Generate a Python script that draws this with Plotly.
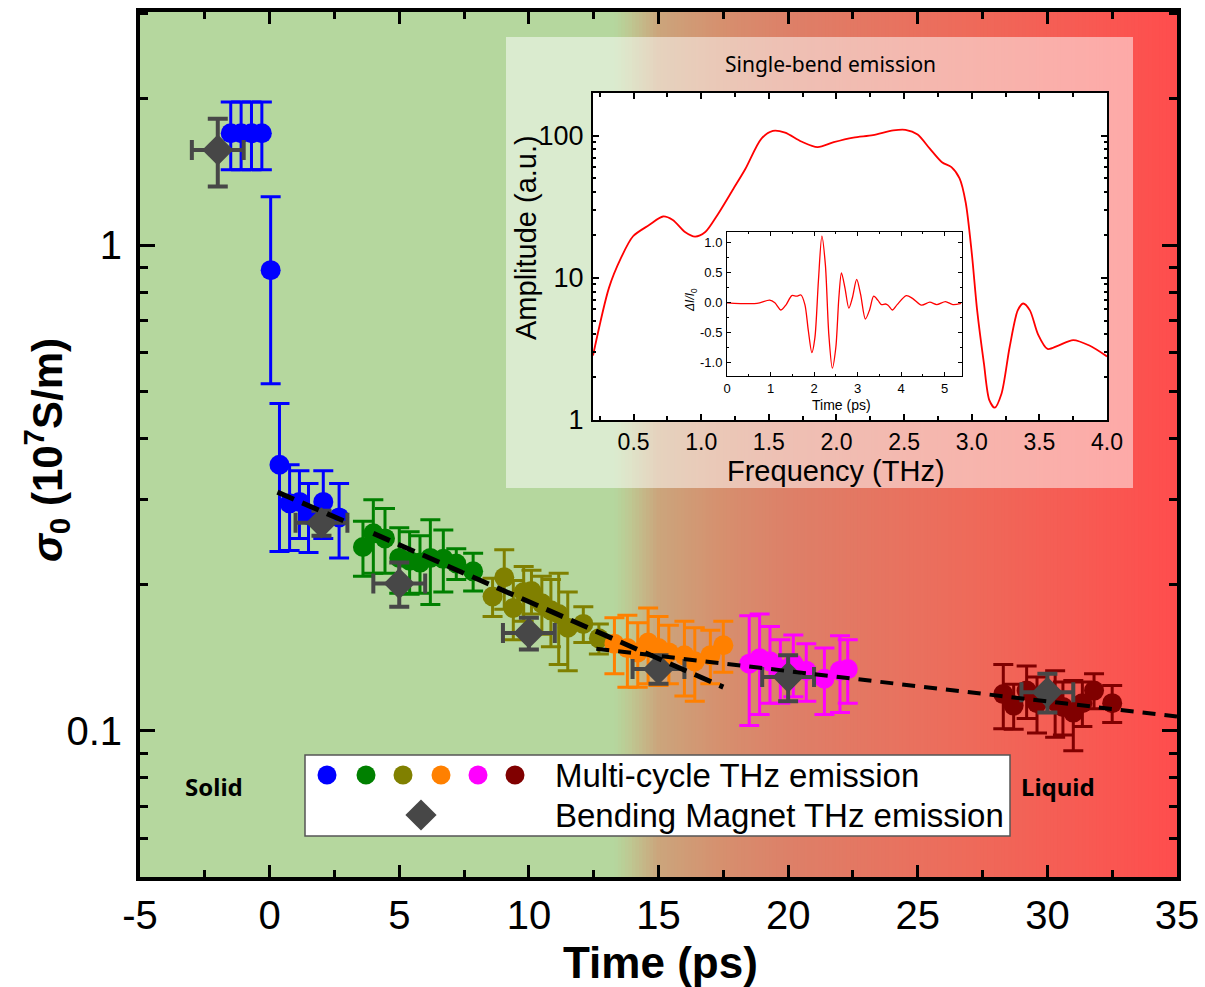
import math
import plotly.graph_objects as go

W, H = 1205, 987

# ---------------- main panel data: conductivity vs. delay ----------------
blue_t = [-1.5, -1.1, -0.7, -0.3, 0.04, 0.38, 0.77, 1.15, 1.5, 2.07, 2.68]
blue_s = [1.70, 1.70, 1.70, 1.70, 0.888, 0.353, 0.294, 0.296, 0.278, 0.296, 0.275]
blue_e = [0.27, 0.27, 0.27, 0.27, 0.37, 0.119, 0.059, 0.047, 0.045, 0.047, 0.048]

green_t = [3.6, 4.0, 4.45, 5.0, 5.4, 5.8, 6.2, 6.7, 7.2, 7.85]
green_s = [0.239, 0.255, 0.249, 0.227, 0.224, 0.222, 0.227, 0.226, 0.221, 0.213]
green_e = [0.031, 0.044, 0.038, 0.035, 0.033, 0.030, 0.045, 0.033, 0.016, 0.019]

olive_t = [8.6, 9.05, 9.4, 9.8, 10.1, 10.5, 10.85, 11.15, 11.5, 12.1, 12.7]
olive_s = [0.189, 0.207, 0.179, 0.193, 0.194, 0.183, 0.177, 0.174, 0.163, 0.166, 0.155]
olive_e = [0.017, 0.029, 0.025, 0.025, 0.020, 0.025, 0.028, 0.037, 0.030, 0.014, 0.011]

orange_t = [13.3, 13.8, 14.2, 14.6, 15.0, 15.4, 16.0, 16.4, 17.0, 17.5]
orange_s = [0.151, 0.148, 0.145, 0.152, 0.148, 0.145, 0.143, 0.139, 0.143, 0.150]
orange_e = [0.020, 0.025, 0.022, 0.027, 0.024, 0.020, 0.025, 0.024, 0.018, 0.018]

magenta_t = [18.5, 18.9, 19.3, 19.7, 20.2, 20.7, 21.4, 22.0, 22.3]
magenta_s = [0.1375, 0.141, 0.139, 0.134, 0.1375, 0.133, 0.128, 0.133, 0.134]
magenta_e = [0.035, 0.033, 0.025, 0.020, 0.020, 0.018, 0.020, 0.024, 0.020]

darkred_t = [28.3, 28.7, 29.2, 29.6, 30.3, 30.6, 31.0, 31.35, 31.8, 32.5]
darkred_s = [0.119, 0.1127, 0.121, 0.114, 0.115, 0.112, 0.109, 0.114, 0.121, 0.114]
darkred_e = [0.018, 0.012, 0.015, 0.015, 0.018, 0.014, 0.018, 0.012, 0.010, 0.010]

bm_t = [-2, 2, 5, 10, 15, 20, 30]
bm_s = [1.57, 0.268, 0.201, 0.159, 0.134, 0.129, 0.120]
bm_ey = [0.25, 0.016, 0.021, 0.012, 0.009, 0.014, 0.011]
bm_ex = [1.0, 1.0, 1.0, 1.0, 1.0, 1.0, 1.0]

fit_a_t = [0.3, 3.1]
fit_a_s = [0.31, 0.267]
fit_b_t = [4.0, 17.5]
fit_b_s = [0.255, 0.123]
fit_c_t = [12.6, 35.0]
fit_c_s = [0.1476, 0.107]

x_ticks = [-5, 0, 5, 10, 15, 20, 25, 30, 35]
y_ticks = [0.1, 1]
y_ticktext = ["0.1", "1"]

# ---------------- inset: single-bend emission spectrum ----------------
freq = [0.2, 0.318, 0.407, 0.496, 0.615, 0.718, 0.79, 0.88, 0.955, 1.03, 1.12,
        1.236, 1.325, 1.444, 1.53, 1.62, 1.74, 1.86, 1.98, 2.125, 2.27, 2.42,
        2.51, 2.6, 2.69, 2.78, 2.85, 2.91, 2.955, 3.0, 3.04, 3.09, 3.13, 3.17,
        3.22, 3.28, 3.34, 3.38, 3.43, 3.49, 3.56, 3.64, 3.75, 3.87, 4.0]
amp = [2.84, 8.5, 13.8, 19.6, 23.5, 27.0, 25.5, 21.0, 19.5, 21.0, 27.7,
       42.0, 58.0, 95.0, 108.0, 105.0, 91.0, 83.0, 90.0, 97.0, 101.0, 109.0,
       110.0, 102.0, 81.0, 65.0, 60.0, 50.0, 34.0, 15.0, 5.9, 2.5, 1.38, 1.22,
       1.53, 3.25, 5.9, 6.6, 5.9, 4.0, 3.16, 3.34, 3.65, 3.34, 2.8]

# ---------------- inner inset: time-domain waveform ----------------
wave_t = [0.0, 0.69, 0.98, 1.1, 1.24, 1.36, 1.49, 1.6, 1.7, 1.79, 1.87, 1.95,
          2.02, 2.1, 2.18, 2.26, 2.34, 2.42, 2.5, 2.57, 2.63, 2.71, 2.8, 2.88,
          2.98, 3.07, 3.18, 3.28, 3.37, 3.47, 3.55, 3.64, 3.7, 3.8, 3.91, 4.12,
          4.27, 4.47, 4.66, 4.82, 5.02, 5.19, 5.38]
wave_v = [0.0, -0.01, 0.045, 0.0, -0.12, -0.03, 0.12, 0.11, 0.13, -0.03, -0.47,
          -0.83, -0.58, 0.36, 1.11, 0.64, -0.53, -1.09, -0.75, 0.08, 0.5, 0.25,
          -0.09, 0.08, 0.39, 0.14, -0.27, -0.11, 0.11, 0.04, -0.03, -0.02, -0.04,
          -0.12, -0.03, 0.12, 0.07, -0.04, 0.01, -0.03, 0.02, -0.03, -0.01]


def px(xp):
    return xp / W


def py(yp):
    return 1 - yp / H


MAIN_X = [px(140), px(1177)]
MAIN_Y = [py(877), py(12)]
T0, T1 = -5.0, 35.0

ARIAL = "Liberation Sans, Arial, sans-serif"
CAL = "Noto Sans, Open Sans, sans-serif"

fig = go.Figure()

# ---- background: solid-to-liquid colour gradient along the time axis ----
stops = [(-5.0, (181, 215, 158)), (13.3, (181, 215, 158)), (13.9, (190, 200, 146)),
         (15.0, (203, 165, 124)), (17.5, (214, 143, 110)), (20.0, (221, 128, 104)),
         (27.0, (238, 106, 90)), (35.0, (255, 77, 77))]


def grad_color(t):
    for (ta, ca), (tb, cb) in zip(stops[:-1], stops[1:]):
        if ta <= t <= tb:
            f = 0 if tb == ta else (t - ta) / (tb - ta)
            return tuple(round(ca[i] + (cb[i] - ca[i]) * f) for i in range(3))
    return stops[-1][1]


def t_to_paper(t):
    return MAIN_X[0] + (t - T0) / (T1 - T0) * (MAIN_X[1] - MAIN_X[0])


shapes = []
shapes.append(dict(type="rect", xref="paper", yref="paper", layer="below",
                   x0=t_to_paper(-5), x1=t_to_paper(13.3) + 0.001, y0=MAIN_Y[0], y1=MAIN_Y[1],
                   fillcolor="rgb(181,215,158)", line_width=0))
n = 160
for k in range(n):
    ta = 13.3 + (35 - 13.3) * k / n
    tb = 13.3 + (35 - 13.3) * (k + 1) / n
    c = grad_color(0.5 * (ta + tb))
    shapes.append(dict(type="rect", xref="paper", yref="paper", layer="below",
                       x0=t_to_paper(ta), x1=min(t_to_paper(tb) + 0.0012, MAIN_X[1]),
                       y0=MAIN_Y[0], y1=MAIN_Y[1],
                       fillcolor="rgb(%d,%d,%d)" % c, line_width=0))

# translucent inset panel
shapes.append(dict(type="rect", xref="paper", yref="paper", layer="below",
                   x0=px(506), x1=px(1133), y0=py(488), y1=py(37),
                   fillcolor="rgba(255,255,255,0.5)", line_width=0))
# white plot areas of the inset axes
shapes.append(dict(type="rect", xref="paper", yref="paper", layer="below",
                   x0=px(593), x1=px(1107), y0=py(420), y1=py(93),
                   fillcolor="white", line_width=0))
shapes.append(dict(type="rect", xref="paper", yref="paper", layer="below",
                   x0=px(727), x1=px(962), y0=py(376), y1=py(232),
                   fillcolor="white", line_width=0))
# legend frame
shapes.append(dict(type="rect", xref="paper", yref="paper", layer="below",
                   x0=px(305), x1=px(1010), y0=py(836), y1=py(755),
                   fillcolor="white", line=dict(color="#555555", width=1.5)))

# ---- multi-cycle emission points ----
groups = [
    (blue_t, blue_s, blue_e, "#0000ff"),
    (green_t, green_s, green_e, "#008000"),
    (olive_t, olive_s, olive_e, "#808000"),
    (orange_t, orange_s, orange_e, "#ff8000"),
    (magenta_t, magenta_s, magenta_e, "#ff00ff"),
    (darkred_t, darkred_s, darkred_e, "#800000"),
]
for t, s, e, col in groups:
    fig.add_trace(go.Scatter(
        x=t, y=s, mode="markers", xaxis="x", yaxis="y",
        marker=dict(symbol="circle", size=20, color=col, line_width=0),
        error_y=dict(type="data", array=e, visible=True, color=col, thickness=3, width=10),
        showlegend=False))

# ---- bending-magnet emission points ----
fig.add_trace(go.Scatter(
    x=bm_t, y=bm_s, mode="markers", xaxis="x", yaxis="y",
    marker=dict(symbol="diamond", size=24, color="#474747", line_width=0),
    error_y=dict(type="data", array=bm_ey, visible=True, color="#474747", thickness=4, width=10),
    error_x=dict(type="data", array=bm_ex, visible=True, color="#474747", thickness=4, width=10),
    showlegend=False))

# ---- fitted trends ----
for ft, fs, wdt, dash in [(fit_a_t, fit_a_s, 5, "18px,9px"),
                          (fit_b_t, fit_b_s, 5, "18px,9px"),
                          (fit_c_t, fit_c_s, 4, "13px,9px")]:
    fig.add_trace(go.Scatter(x=ft, y=fs, mode="lines", xaxis="x", yaxis="y",
                             line=dict(color="black", width=wdt, dash=dash),
                             showlegend=False))

# ---- inset spectrum ----
fig.add_trace(go.Scatter(x=freq, y=amp, mode="lines", xaxis="x2", yaxis="y2",
                         line=dict(color="#ff0000", width=1.8, shape="spline", smoothing=0.8),
                         showlegend=False))

# ---- inner waveform ----
fig.add_trace(go.Scatter(x=wave_t, y=wave_v, mode="lines", xaxis="x3", yaxis="y3",
                         line=dict(color="#ff0000", width=1.3, shape="spline", smoothing=0.8),
                         showlegend=False))

# ---- legend keys ----
legend_colors = [g[3] for g in groups]
legend_x = [327, 366, 403, 441, 478, 515]
fig.add_trace(go.Scatter(x=legend_x, y=[775] * 6, mode="markers", xaxis="x4", yaxis="y4",
                         marker=dict(symbol="circle", size=19, color=legend_colors, line_width=0),
                         showlegend=False))
fig.add_trace(go.Scatter(x=[421], y=[815], mode="markers", xaxis="x4", yaxis="y4",
                         marker=dict(symbol="diamond", size=24, color="#474747", line_width=0),
                         showlegend=False))

minor_main_y = [0.06, 0.07, 0.08, 0.09] + [k / 10 for k in range(2, 10)] + [2, 3]
minor_inset_y = [k for k in range(2, 10)] + [10 * k for k in range(2, 10)] + [200]

layout_axes = dict(
    xaxis=dict(domain=MAIN_X, range=[T0, T1], anchor="y", tickmode="array",
               tickvals=x_ticks, ticktext=[str(v) for v in x_ticks],
               ticks="inside", ticklen=12, tickwidth=3, tickcolor="black",
               showline=True, linewidth=4, linecolor="black", mirror="allticks",
               showgrid=False, zeroline=False, ticklabelstandoff=0, automargin=False,
               tickfont=dict(family=ARIAL, size=40, color="black"),
               minor=dict(tickmode="array", tickvals=[v + 2.5 for v in x_ticks[:-1]],
                          ticks="inside", ticklen=7, tickwidth=3, tickcolor="black", showgrid=False)),
    yaxis=dict(domain=MAIN_Y, type="log", range=[math.log10(0.05), math.log10(3.02)], anchor="x",
               tickmode="array", tickvals=y_ticks, ticktext=y_ticktext,
               ticks="inside", ticklen=15, tickwidth=3, tickcolor="black",
               showline=True, linewidth=4, linecolor="black", mirror="allticks",
               showgrid=False, zeroline=False, ticklabelstandoff=6, automargin=False,
               tickfont=dict(family=ARIAL, size=40, color="black"),
               minor=dict(tickmode="array", tickvals=minor_main_y, ticks="inside",
                          ticklen=8, tickwidth=3, tickcolor="black", showgrid=False)),
    xaxis2=dict(domain=[px(593), px(1107)], range=[0.2, 4.0], anchor="y2", tickmode="array",
                tickvals=[0.5, 1.0, 1.5, 2.0, 2.5, 3.0, 3.5, 4.0],
                ticktext=["0.5", "1.0", "1.5", "2.0", "2.5", "3.0", "3.5", "4.0"],
                ticks="inside", ticklen=6, tickwidth=2, tickcolor="black",
                showline=True, linewidth=2, linecolor="black", mirror="allticks",
                showgrid=False, zeroline=False, ticklabelstandoff=0, automargin=False,
                tickfont=dict(family=ARIAL, size=23, color="black"),
                minor=dict(tickmode="array", tickvals=[0.25 + 0.5 * k for k in range(8)],
                           ticks="inside", ticklen=4, tickwidth=2, tickcolor="black")),
    yaxis2=dict(domain=[py(420), py(93)], type="log", range=[0, 2.3], anchor="x2",
                tickmode="array", tickvals=[1, 10, 100], ticktext=["1", "10", "100"],
                ticks="inside", ticklen=6, tickwidth=2, tickcolor="black",
                showline=True, linewidth=2, linecolor="black", mirror="allticks",
                showgrid=False, zeroline=False, ticklabelstandoff=2, automargin=False,
                tickfont=dict(family=ARIAL, size=27, color="black"),
                minor=dict(tickmode="array", tickvals=minor_inset_y, ticks="inside",
                           ticklen=3, tickwidth=2, tickcolor="black")),
    xaxis3=dict(domain=[px(727), px(962)], range=[0, 5.4], anchor="y3", tickmode="array",
                tickvals=[0, 1, 2, 3, 4, 5], ticktext=["0", "1", "2", "3", "4", "5"],
                ticks="inside", ticklen=4, tickwidth=1, tickcolor="black",
                showline=True, linewidth=1, linecolor="black", mirror="allticks",
                showgrid=False, zeroline=False, ticklabelstandoff=0, automargin=False,
                tickfont=dict(family=ARIAL, size=13, color="black"),
                minor=dict(tickmode="array", tickvals=[0.5 + k for k in range(5)],
                           ticks="inside", ticklen=2, tickwidth=1, tickcolor="black")),
    yaxis3=dict(domain=[py(376), py(232)], range=[-1.22, 1.18], anchor="x3", tickmode="array",
                tickvals=[-1.0, -0.5, 0.0, 0.5, 1.0], ticktext=["-1.0", "-0.5", "0.0", "0.5", "1.0"],
                ticks="inside", ticklen=4, tickwidth=1, tickcolor="black",
                showline=True, linewidth=1, linecolor="black", mirror="allticks",
                showgrid=False, zeroline=False, ticklabelstandoff=1, automargin=False,
                tickfont=dict(family=ARIAL, size=13, color="black"),
                minor=dict(tickmode="array", tickvals=[-0.75, -0.25, 0.25, 0.75],
                           ticks="inside", ticklen=2, tickwidth=1, tickcolor="black")),
    xaxis4=dict(domain=[px(305), px(1010)], range=[305, 1010], anchor="y4", visible=False),
    yaxis4=dict(domain=[py(836), py(755)], range=[836, 755], anchor="x4", visible=False),
)


def ann(text, x, y, size, family=ARIAL, angle=0, xanchor="center", color="black"):
    return dict(text=text, x=px(x), y=py(y), xref="paper", yref="paper", showarrow=False,
                xanchor=xanchor, yanchor="middle", textangle=angle,
                font=dict(family=family, size=size, color=color))


annotations = [
    ann("<b>Time (ps)</b>", 660, 962, 44),
    ann("<b><i>σ</i><sub>0</sub> (10<sup>7</sup>S/m)</b>", 46, 450, 42, angle=-90),
    ann("<b>Solid</b>", 214, 786, 24, family=CAL),
    ann("<b>Liquid</b>", 1058, 786, 24, family=CAL),
    ann("Single-bend emission", 830, 64, 21, family=CAL),
    ann("Amplitude (a.u.)", 526, 238, 29, angle=-90),
    ann("Frequency (THz)", 836, 471, 29),
    ann("Time (ps)", 841, 405, 14),
    ann("<i>ΔI/I</i><sub>0</sub>", 691, 300, 12, angle=-90),
    ann("Multi-cycle THz emission", 553, 775, 33, xanchor="left"),
    ann("Bending Magnet THz emission", 553, 815, 33, xanchor="left"),
]

fig.update_layout(
    width=W, height=H,
    autosize=False,
    margin=dict(l=0, r=0, t=0, b=0, pad=0, autoexpand=False),
    paper_bgcolor="white",
    plot_bgcolor="rgba(0,0,0,0)",
    showlegend=False,
    shapes=shapes,
    annotations=annotations,
    **layout_axes,
)

fig.write_html("out.html", config={"responsive": False})
